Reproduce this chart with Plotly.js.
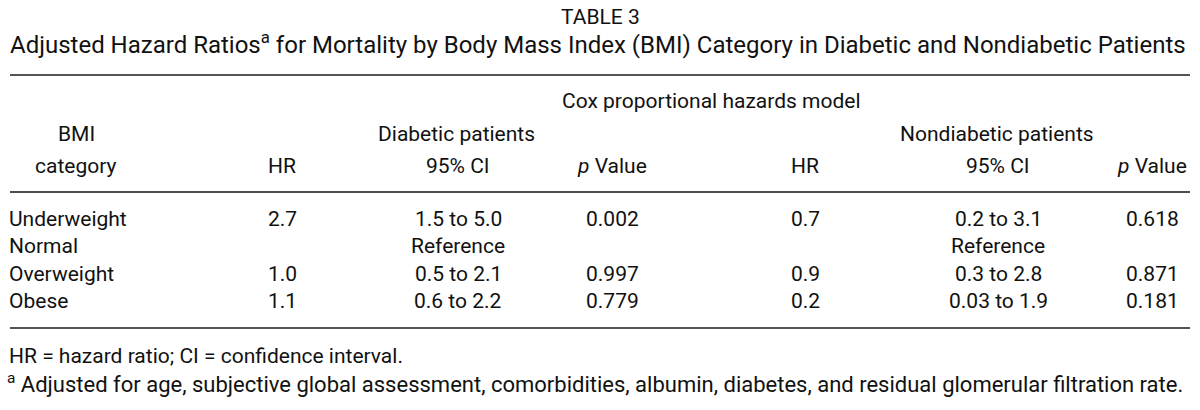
<!DOCTYPE html>
<html>
<head>
<meta charset="utf-8">
<script src="https://cdn.plot.ly/plotly-3.0.1.min.js"></script>
<style>html,body{margin:0;padding:0;background:#fff;}#chart{width:1200px;height:410px;}</style>
</head>
<body>
<div id="chart"></div>
<script>
// ---- data ----
const tableLabel = 'TABLE 3';
const tableTitle = 'Adjusted Hazard Ratios<sup>a</sup> for Mortality by Body Mass Index (BMI) Category in Diabetic and Nondiabetic Patients';
const spanHeader = 'Cox proportional hazards model';
const groupHeaders = ['Diabetic patients', 'Nondiabetic patients'];
const columnHeaders = ['HR', '95% CI', '<i>p</i> Value', 'HR', '95% CI', '<i>p</i> Value'];
const categories = ['Underweight', 'Normal', 'Overweight', 'Obese'];
const diabHR = ['2.7', '', '1.0', '1.1'];
const diabCI = ['1.5 to 5.0', 'Reference', '0.5 to 2.1', '0.6 to 2.2'];
const diabP = ['0.002', '', '0.997', '0.779'];
const nondHR = ['0.7', '', '0.9', '0.2'];
const nondCI = ['0.2 to 3.1', 'Reference', '0.3 to 2.8', '0.03 to 1.9'];
const nondP = ['0.618', '', '0.871', '0.181'];
const footnotes = ['HR = hazard ratio; CI = confidence interval.',
  '<sup>a</sup> Adjusted for age, subjective global assessment, comorbidities, albumin, diabetes, and residual glomerular filtration rate.'];

// ---- layout ----
const FONT = 'Roboto, "Open Sans", sans-serif';
const TXT = '#111';
const colX = [282, 458, 612, 805, 998, 1152];
const groupX = [456, 997];
const rowY = [219, 246, 274, 301];
const bodySize = 21;

const ann = [];
function add(text, x, y, size, anchor) {
  ann.push({text: text, x: x, y: y, xref: 'x', yref: 'y', showarrow: false,
    xanchor: anchor || 'center', yanchor: 'middle',
    font: {family: FONT, size: size || bodySize, color: TXT}});
}
add(tableLabel, 600, 17, 21);
add(tableTitle, 598, 43, 24);
add(spanHeader, 711, 101);
add(groupHeaders[0], groupX[0], 134);
add(groupHeaders[1], groupX[1], 134);
add('BMI', 76, 134);
add('category', 75, 166);
columnHeaders.forEach((h, i) => add(h, colX[i], 166));
const cols = [diabHR, diabCI, diabP, nondHR, nondCI, nondP];
categories.forEach((c, r) => {
  add(c, 7, rowY[r], bodySize, 'left');
  cols.forEach((col, i) => { if (col[r]) add(col[r], colX[i], rowY[r]); });
});
add(footnotes[0], 7, 356, bodySize, 'left');
add(footnotes[1], 5, 383, 22, 'left');

const shapes = [
  {type: 'line', xref: 'x', yref: 'y', x0: 10, x1: 1190, y0: 75, y1: 75, line: {color: '#555', width: 2}},
  {type: 'line', xref: 'x', yref: 'y', x0: 10, x1: 1190, y0: 192, y1: 192, line: {color: '#111', width: 1.5}},
  {type: 'line', xref: 'x', yref: 'y', x0: 10, x1: 1190, y0: 328, y1: 328, line: {color: '#555', width: 2}}
];

Plotly.newPlot('chart', [], {
  width: 1200, height: 410,
  margin: {l: 0, r: 0, t: 0, b: 0},
  paper_bgcolor: '#fff', plot_bgcolor: '#fff',
  xaxis: {range: [0, 1200], visible: false, fixedrange: true},
  yaxis: {range: [410, 0], visible: false, fixedrange: true},
  annotations: ann, shapes: shapes, showlegend: false
}, {staticPlot: true, displayModeBar: false});
</script>
</body>
</html>
